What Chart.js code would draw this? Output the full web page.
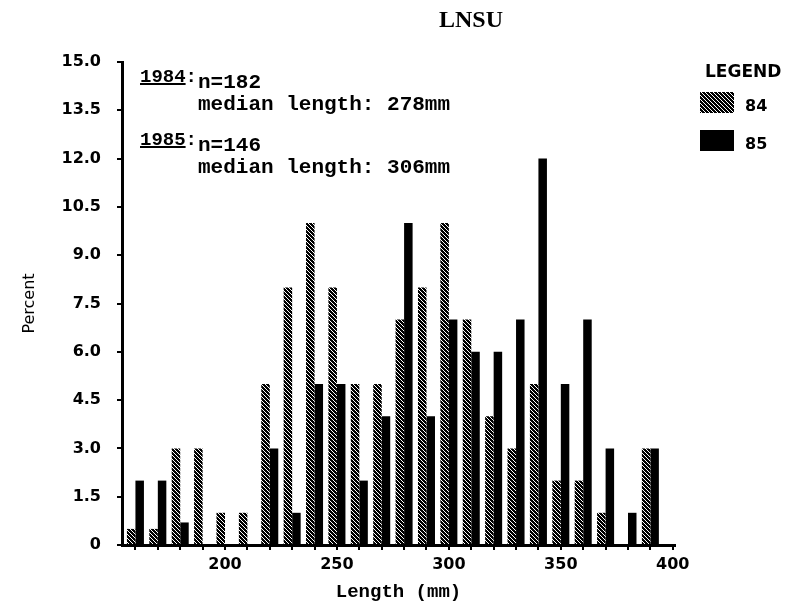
<!DOCTYPE html>
<html><head><meta charset="utf-8">
<script src="https://cdn.jsdelivr.net/npm/chart.js@4/dist/chart.umd.min.js"></script>
<style>html,body{margin:0;padding:0;background:#fff}</style>
</head><body>
<canvas id="c" width="792" height="607"></canvas>
<script>
// ---- data ----
const lengthBins = [160,170,180,190,200,210,220,230,240,250,260,270,280,290,300,310,320,330,340,350,360,370,380,390];
const pct1984 = [0.5,0.5,3.0,3.0,1.0,1.0,5.0,8.0,10.0,8.0,5.0,5.0,7.0,8.0,10.0,7.0,4.0,3.0,5.0,2.0,2.0,1.0,0,3.0];
const pct1985 = [2.0,2.0,0.7,0,0,0,3.0,1.0,5.0,5.0,2.0,4.0,10.0,4.0,7.0,6.0,6.0,7.0,12.0,5.0,7.0,3.0,1.0,3.0];
const seriesNames = ['84','85'];
const xTickMarks = [160,170,180,190,200,210,220,230,240,250,260,270,280,290,300,310,320,330,340,350,360,370,380,390,400];
const xTickLabels = [200,250,300,350,400];
const yTicks = [0,1.5,3.0,4.5,6.0,7.5,9.0,10.5,12.0,13.5,15.0];
const chartTitle = 'LNSU';
const noteYears = ['1984','1985'];
const noteN = [182,146];
const noteMedian = [278,306];

const canvas = document.getElementById('c');
const ctx = canvas.getContext('2d');

// speckled pattern for 1984 bars
const tile = document.createElement('canvas');
tile.width = 4; tile.height = 4;
const tg = tile.getContext('2d');
tg.fillStyle = '#000'; tg.fillRect(0,0,4,4);
tg.fillStyle = '#fff';
[[1,0],[3,2],[0,3],[2,1]].forEach(([x,y]) => tg.fillRect(x,y,1,1));
const pattern84 = ctx.createPattern(tile,'repeat');

const overlay = {
  id: 'overlay',
  afterDraw(chart) {
    const c = chart.ctx;
    c.save();
    c.fillStyle = '#000';
    c.strokeStyle = '#000';
    c.textBaseline = 'alphabetic';
    // title
    c.font = 'bold 24px "Liberation Serif"';
    c.textAlign = 'center';
    c.fillText(chartTitle, 471, 27);
    // notes
    c.textAlign = 'left';
    const bases = [82, 145];
    noteYears.forEach((yr, i) => {
      const y0 = bases[i];
      c.font = 'bold 19px "Liberation Mono"';
      c.fillText(yr + ':', 140, y0);
      const w = c.measureText(yr).width;
      c.lineWidth = 2;
      c.beginPath(); c.moveTo(140, y0 + 2); c.lineTo(140 + w, y0 + 2); c.stroke();
      c.font = 'bold 21px "Liberation Mono"';
      c.fillText('n=' + noteN[i], 198, y0 + 6);
      c.fillText('median length: ' + noteMedian[i] + 'mm', 198, y0 + 28);
    });
    // legend
    c.font = 'bold 17px "DejaVu Sans"';
    c.fillText('LEGEND', 705, 77);
    chart.data.datasets.forEach((ds, i) => {
      const top = 92 + i * 38;
      c.fillStyle = ds.backgroundColor;
      c.fillRect(700, top, 34, 21);
      c.fillStyle = '#000';
      c.font = 'bold 16px "DejaVu Sans"';
      c.fillText(ds.label, 745, top + 19);
    });
    c.restore();
  }
};

new Chart(ctx, {
  type: 'bar',
  data: {
    datasets: [
      { label: seriesNames[0], data: lengthBins.map((x,i) => ({x, y: pct1984[i]})),
        backgroundColor: pattern84, borderColor: '#000', borderWidth: 0 },
      { label: seriesNames[1], data: lengthBins.map((x,i) => ({x, y: pct1985[i]})),
        backgroundColor: '#000', borderWidth: 0 }
    ]
  },
  options: {
    responsive: false,
    animation: false,
    devicePixelRatio: 1,
    layout: { padding: { left: 0, right: 117, top: 62, bottom: 0 } },
    datasets: { bar: { categoryPercentage: 0.76, barPercentage: 1.0 } },
    plugins: { legend: { display: false }, title: { display: false }, tooltip: { enabled: false } },
    scales: {
      x: {
        type: 'linear', min: 154, max: 401, offset: false,
        grid: { drawOnChartArea: false, drawTicks: true, tickLength: 5, color: '#000', lineWidth: 2, offset: false },
        border: { display: true, color: '#000', width: 3 },
        afterBuildTicks: s => { s.ticks = xTickMarks.map(v => ({ value: v })); },
        afterFit: s => { s.height = 62; },
        ticks: {
          autoSkip: false, maxRotation: 0, padding: 5, color: '#000',
          font: { family: 'DejaVu Sans', weight: 'bold', size: 16 },
          callback: v => xTickLabels.includes(v) ? String(v) : ''
        },
        title: { display: true, text: 'Length (mm)', color: '#000',
          font: { family: 'Liberation Mono', weight: 'bold', size: 19 }, padding: { top: 0, bottom: 3 } }
      },
      y: {
        min: 0, max: 15,
        grid: { drawOnChartArea: false, drawTicks: true, tickLength: 5, color: '#000', lineWidth: 2 },
        border: { display: true, color: '#000', width: 3 },
        afterBuildTicks: s => { s.ticks = yTicks.map(v => ({ value: v })); },
        afterFit: s => { s.width = 122; },
        ticks: {
          padding: 16, color: '#000',
          font: { family: 'DejaVu Sans', weight: 'bold', size: 16 },
          callback: v => v === 0 ? '0' : Number(v).toFixed(1)
        },
        title: { display: true, text: 'Percent', color: '#000',
          font: { family: 'DejaVu Sans', size: 16 }, padding: { top: 20, bottom: 0 } }
      }
    }
  },
  plugins: [overlay]
});
</script>
</body></html>
